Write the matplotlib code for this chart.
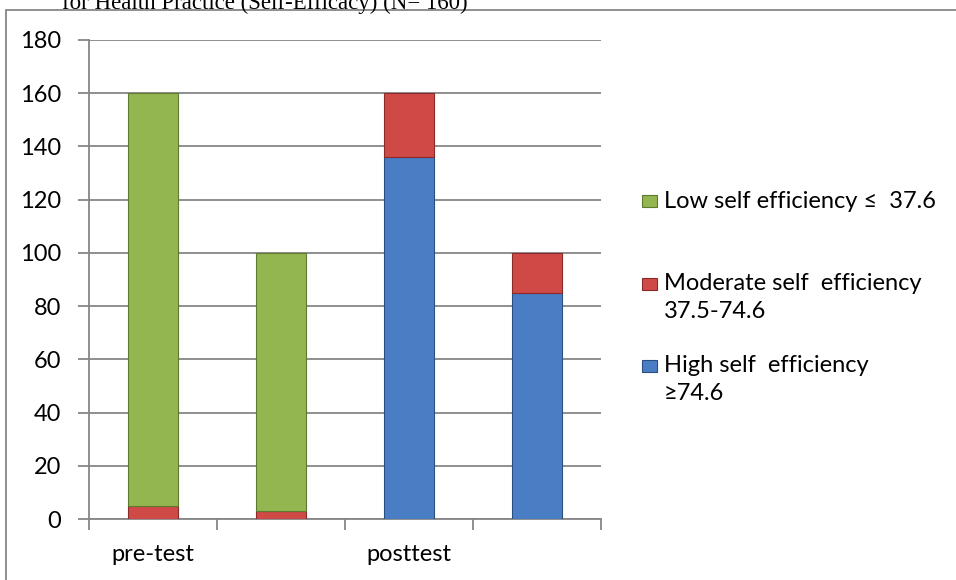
import matplotlib.pyplot as plt
import matplotlib.patches as mpatches
import numpy as np

# chart values
categories = ['pre-test', '', 'posttest', '']
low_vals = [155, 97, 0, 0]
moderate_vals = [5, 3, 24, 15]
high_vals = [0, 0, 136, 85]
yticks = [0, 20, 40, 60, 80, 100, 120, 140, 160, 180]

legend_labels = ['Low self efficiency \u2264  37.6',
                 'Moderate self  efficiency\n37.5-74.6',
                 'High self  efficiency\n\u226574.6']

green = '#94B650'
red = '#CF4A47'
blue = '#4A7EC4'
grey = '#868686'
colors = [green, red, blue]
edges = ['#5E7A2E', '#8A2A28', '#2A4E80']

plt.rcParams['font.family'] = ['Lato', 'DejaVu Sans']
FS = 17

fig = plt.figure(figsize=(9.56, 5.8), dpi=100)
W, H = 956, 580
ax = fig.add_axes([89 / W, 1 - 519 / H, (601 - 89) / W, (519 - 40) / H])

x = np.arange(len(categories))
width = 0.39

# stacking order depends on the group: red sits under green for pre-test,
# on top of blue for posttest
for i in range(len(categories)):
    if high_vals[i] > 0:
        ax.bar(x[i], high_vals[i], width, color=blue, edgecolor=edges[2], linewidth=0.8, zorder=3)
        ax.bar(x[i], moderate_vals[i], width, bottom=high_vals[i], color=red,
               edgecolor=edges[1], linewidth=0.8, zorder=3)
    else:
        ax.bar(x[i], moderate_vals[i], width, color=red, edgecolor=edges[1], linewidth=0.8, zorder=3)
        ax.bar(x[i], low_vals[i], width, bottom=moderate_vals[i], color=green,
               edgecolor=edges[0], linewidth=0.8, zorder=3)

ax.set_xlim(-0.5, len(categories) - 0.5)
ax.set_ylim(0, 180)
ax.set_yticks(yticks)
ax.set_yticklabels([str(v) for v in yticks], fontsize=FS)
ax.yaxis.grid(True, color=grey, linewidth=1.3, zorder=0)
ax.set_axisbelow(True)

# category labels centred under bars, ticks on boundaries
ax.set_xticks(x)
ax.set_xticklabels(categories, fontsize=FS)
ax.tick_params(axis='x', length=0, pad=18)
ax.set_xticks(np.arange(-0.5, len(categories)), minor=True)
ax.tick_params(axis='x', which='minor', length=8, width=1.3, color=grey)
ax.tick_params(axis='y', length=8, width=1.3, color=grey, pad=12)

for s in ['top', 'right']:
    ax.spines[s].set_visible(False)
for s in ['left', 'bottom']:
    ax.spines[s].set_color(grey)
    ax.spines[s].set_linewidth(1.3)

# legend drawn by hand so the two-line labels sit like the original
entry_y = [201, 284, 366]
line_gap = 27
for lab, c, ec, y0 in zip(legend_labels, colors, edges, entry_y):
    fig.patches.append(mpatches.Rectangle((642 / W, 1 - (y0 + 6) / H), 15 / W, 12 / H,
                                          transform=fig.transFigure, facecolor=c,
                                          edgecolor=ec, linewidth=0.8))
    for k, line in enumerate(lab.split('\n')):
        fig.text(664 / W, 1 - (y0 + k * line_gap) / H, line, fontsize=FS,
                 va='center', ha='left')

# outer chart border (clipped by the image on right and bottom)
fig.patches.append(mpatches.Rectangle((6 / W, -0.05), 1.1, 1 - 10 / H + 0.05,
                                      transform=fig.transFigure, fill=False,
                                      edgecolor=grey, linewidth=1.3))

# partially clipped caption above the chart
fig.text(62 / W, 1 - 8.5 / H, 'for Health Practice (Self-Efficacy) (N= 160)',
         fontsize=16.5, family='Liberation Serif', va='baseline', ha='left')

fig.savefig('out.png', dpi=100)
